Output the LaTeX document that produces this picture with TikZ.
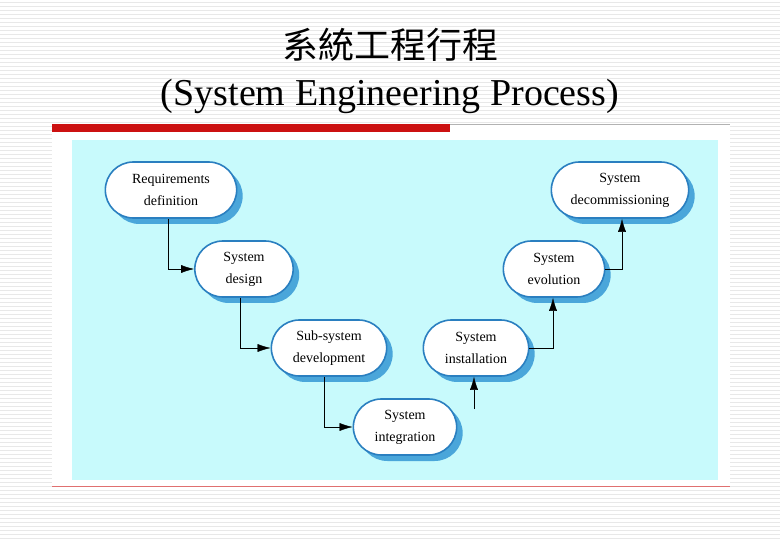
\documentclass[tikz,border=0pt]{standalone}
\usepackage{fontspec}
\setmainfont{Liberation Serif}
\newfontfamily\cjk{Noto Sans CJK TC}
\usetikzlibrary{arrows.meta,shadows,shapes.misc}
\definecolor{panel}{HTML}{C8FAFC}
\definecolor{edge}{HTML}{2A7FC0}
\definecolor{shade}{HTML}{4AA6DA}
\definecolor{barred}{HTML}{CC1111}
\tikzset{
  >=latex,
  stage/.style={draw=edge, line width=1.6pt, rounded rectangle, fill=white, minimum height=56pt,
    align=center, font=\fontsize{14}{22}\selectfont,
    drop shadow={shadow xshift=6pt, shadow yshift=-6pt, fill=shade, opacity=1}},
  flow/.style={-{Latex[length=13pt,width=8pt]}, thin, black}
}
\begin{document}
\begin{tikzpicture}[x=1pt,y=-1pt]
\useasboundingbox (0,0) rectangle (780,540);
\fill[white] (0,0) rectangle (780,540);
% stripes
\foreach \y in {2,6,...,538} \draw[gray!18, line width=0.8pt] (0,\y) -- (780,\y);
\fill[white] (52,124) rectangle (730,486);

% title
\node[font=\cjk\fontsize{36}{40}\selectfont] (title) at (390,45) {系統工程行程};
\node[font=\fontsize{38}{42}\selectfont] (subtitle) at (390,96) {(System Engineering Process)};
\draw[gray!60, line width=0.6pt] (52,124) -- (730,124);
\fill[barred] (52,124) rectangle (450,132);
\draw[barred!60, line width=0.6pt] (52,486) -- (730,486);

% panel
\fill[panel] (72,140) rectangle (718,480);

% The stages
\node[stage, minimum width=138pt] (req) at (171,190) {Requirements\\definition};
\node[stage, minimum width=105pt] (design) at (244,269) {System\\design};
\node[stage, minimum width=122pt] (subsys) at (329,348) {Sub-system\\development};
\node[stage, minimum width=110pt] (integ) at (405,427) {System\\integration};
\node[stage, minimum width=112pt] (install) at (476,348) {System\\installation};
\node[stage, minimum width=108pt] (evol) at (554,269) {System\\evolution};
\node[stage, minimum width=144pt] (decom) at (620,190) {System\\decommissioning};
\coordinate (integ out) at (474,409);

% The connections
\draw[flow] (req.south -| 168,0) |- (design);
\draw[flow] (design.south -| 240,0) |- (subsys);
\draw[flow] (subsys.south -| 324,0) |- (integ);
\draw[flow] (integ out) -- (install.south -| integ out);
\draw[flow] (install) -| (evol.south -| 553,0);
\draw[flow] (evol) -| (decom.south -| 622,0);
\end{tikzpicture}
\end{document}
